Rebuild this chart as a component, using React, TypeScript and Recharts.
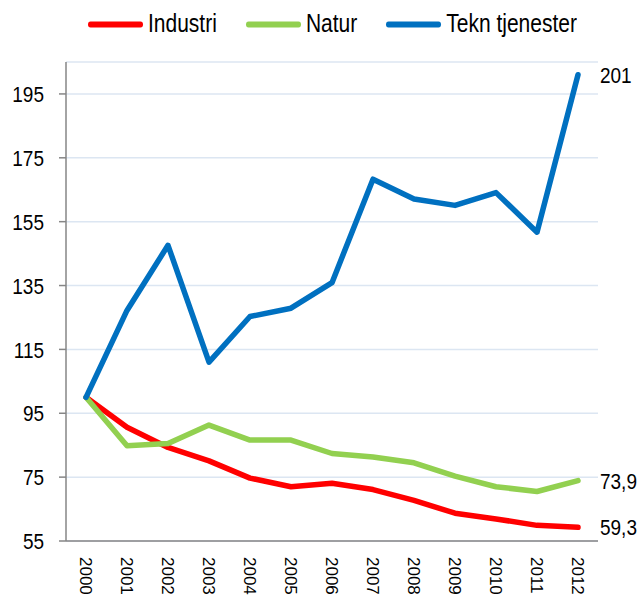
import { LineChart, Line, XAxis, YAxis, CartesianGrid } from "recharts";

const years = ["2000", "2001", "2002", "2003", "2004", "2005", "2006", "2007", "2008", "2009", "2010", "2011", "2012"];
const industri = [100, 90.6, 84.3, 80.1, 74.7, 72.0, 73.1, 71.1, 67.7, 63.7, 61.9, 59.9, 59.3];
const natur = [100, 84.8, 85.5, 91.3, 86.6, 86.6, 82.4, 81.3, 79.5, 75.3, 72.0, 70.5, 73.9];
const tekn = [100, 127.2, 147.6, 111.0, 125.3, 127.9, 135.9, 168.3, 162.1, 160.1, 164.1, 151.7, 201];
const yTicks = [55, 75, 95, 115, 135, 155, 175, 195];

const series = [
  { key: "industri", name: "Industri", color: "#ff0000" },
  { key: "natur", name: "Natur", color: "#92d050" },
  { key: "tekn", name: "Tekn tjenester", color: "#0070c0" },
];

const data = years.map((year, i) => ({ year, industri: industri[i], natur: natur[i], tekn: tekn[i] }));

const FONT = "'Liberation Sans', Arial, sans-serif";
const STRETCH = 1.2;

function YTick({ x, y, payload }: any) {
  return (
    <text transform={`translate(${x - 13}, ${y}) scale(1, ${STRETCH})`} textAnchor="end" dy="0.36em" fontSize={19} fontFamily={FONT} fill="#000">
      {payload.value}
    </text>
  );
}

// year labels turned 90°, reading downwards
function XTick({ x, y, payload }: any) {
  return (
    <text transform={`translate(${x}, ${y + 8}) rotate(90)`} textAnchor="start" dy="0.36em" fontSize={17} fontFamily={FONT} fill="#000">
      {payload.value}
    </text>
  );
}

function EndLabel({ x, y, value, index }: any) {
  if (index !== years.length - 1) return null;
  return (
    <text transform={`translate(${x + 22}, ${y}) scale(1, ${STRETCH})`} textAnchor="start" dy="0.36em" fontSize={19} fontFamily={FONT} fill="#000">
      {String(value).replace(".", ",")}
    </text>
  );
}

export default function App() {
  return (
    <div style={{ position: "absolute", left: 0, top: 0, width: 643, height: 599, background: "#fff" }}>
      <div style={{ position: "absolute", left: 88, top: 12, display: "flex", alignItems: "center", fontFamily: FONT, fontSize: 21, transform: `scaleY(${STRETCH})`, transformOrigin: "left center", lineHeight: "24px" }}>
        {series.map((s) => (
          <div key={s.key} style={{ display: "flex", alignItems: "center", marginRight: 29 }}>
            <span style={{ display: "inline-block", width: 55, height: 5, borderRadius: 3, background: s.color, marginRight: 5 }} />
            <span>{s.name}</span>
          </div>
        ))}
      </div>
      <LineChart width={643} height={599} data={data} margin={{ top: 62, right: 45, bottom: 0, left: 0 }}>
        <CartesianGrid vertical={false} stroke="#dce6f2" strokeWidth={1.5} />
        <XAxis dataKey="year" height={58} tick={<XTick />} tickLine={false} axisLine={{ stroke: "#868686", strokeWidth: 1.5 }} interval={0} padding={{ left: 20, right: 20 }} />
        <YAxis width={66} domain={[55, 205]} ticks={yTicks} tick={<YTick />} tickSize={7} tickLine={{ stroke: "#868686", strokeWidth: 1.5 }} axisLine={{ stroke: "#868686", strokeWidth: 1.5 }} allowDataOverflow />
        {series.map((s) => (
          <Line
            key={s.key}
            dataKey={s.key}
            name={s.name}
            stroke={s.color}
            strokeWidth={5.5}
            strokeLinecap="round"
            strokeLinejoin="round"
            dot={false}
            activeDot={false}
            isAnimationActive={false}
            label={<EndLabel />}
          />
        ))}
      </LineChart>
    </div>
  );
}
